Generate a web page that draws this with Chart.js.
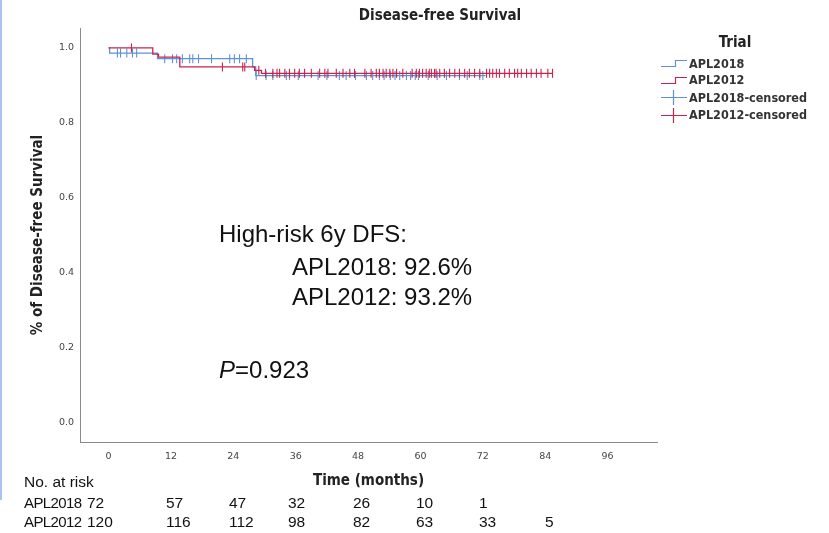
<!DOCTYPE html>
<html>
<head>
<meta charset="utf-8">
<script src="https://cdn.jsdelivr.net/npm/chart.js@4.4.1/dist/chart.umd.min.js"></script>
<style>
    body { margin: 0; background: #fff; }
    #wrap { position: relative; width: 829px; height: 533px; overflow: hidden; font-family: "Liberation Sans", Arial, sans-serif; color: #111; }
    #wrap canvas { position: absolute; left: 0; top: 0; }
    .abs { position: absolute; white-space: nowrap; }
    .title { left: 0; width: 880px; top: 6px; text-align: center; font: bold 15px "DejaVu Sans Condensed", sans-serif; color: #222; }
    .note { font-size: 24px; line-height: 28px; }
    .risk { font-size: 15.5px; line-height: 18px; }
    .risk.lab { letter-spacing: -0.6px; font-size: 15px; }
    .legend { left: 660px; top: 33px; font: bold 12.5px "DejaVu Sans Condensed", sans-serif; color: #333; }
    .legend .hd { width: 150px; text-align: center; font-size: 15px; color: #222; margin-bottom: 4px; }
    .legend .row { display: flex; align-items: center; }
    .legend svg { margin-right: 1px; }
    .edge { left: 0; top: 0; width: 2px; height: 500px; background: #a9c2ee; }
</style>
</head>
<body>
<div id="wrap">
    <canvas id="km" width="829" height="533"></canvas>
    <div class="abs edge"></div>
    <div class="abs title">Disease-free Survival</div>
    <div class="abs legend" id="legend"></div>
    <div class="abs note" style="left:219px;top:220px">High-risk 6y DFS:</div>
    <div class="abs note" style="left:292px;top:253px">APL2018: 92.6%</div>
    <div class="abs note" style="left:292px;top:283px">APL2012: 93.2%</div>
    <div class="abs note" style="left:219px;top:356px"><i>P</i>=0.923</div>
    <div id="risk"></div>
</div>
<script>
// Kaplan-Meier steps (time in months, survival after the step)
const times2018 = [0, 0.2, 9.4, 27.7, 28.3, 72.5];
const surv2018  = [1, 0.986, 0.971, 0.949, 0.926, 0.926];
const times2012 = [0, 8.5, 9.6, 13.7, 28.1, 29.4, 85.4];
const surv2012  = [1, 0.983, 0.975, 0.949, 0.940, 0.932, 0.932];

// censoring times
const cens2018 = [1.7, 2.3, 3.5, 4.6, 5.4, 10.8, 12.3, 13.1, 14.2, 15.6, 16.2, 17.3, 19.8, 23.3, 24.2, 25.2, 26.5,
    28.4, 30.3, 31.6, 34.2, 34.8, 36.5, 40.3, 42.0, 44.4, 45.7, 47.5, 49.6, 50.8, 52.1, 53.0, 54.2, 55.1, 56.0,
    57.3, 58.1, 59.0, 59.6, 61.5, 63.2, 65.0, 67.5, 69.0, 71.4, 72.0];
const cens2012 = [4.4, 21.9, 25.8, 26.2, 28.9, 30.2, 31.6, 32.4, 32.9, 33.9, 34.8, 35.8, 36.7, 37.7, 39.0, 40.6,
    41.6, 42.2, 43.8, 45.1, 46.4, 47.3, 49.3, 50.5, 51.5, 52.1, 52.8, 53.4, 54.1, 54.7, 55.4, 56.6, 58.4, 59.2,
    59.8, 60.4, 61.1, 61.7, 62.1, 62.7, 63.0, 63.7, 64.6, 65.6, 66.6, 67.5, 68.5, 69.4, 70.4, 71.4, 72.7, 73.3,
    73.9, 74.6, 75.2, 76.2, 77.1, 78.1, 78.7, 79.4, 80.4, 81.3, 82.3, 83.2, 84.5, 85.4];

const xTicks = [0, 12, 24, 36, 48, 60, 72, 84, 96];
const yTicks = [0, 0.2, 0.4, 0.6, 0.8, 1.0];

// numbers at risk
const riskLabels = ["APL2018", "APL2012"];
const risk2018 = [72, 57, 47, 32, 26, 10, 1];
const risk2012 = [120, 116, 112, 98, 82, 63, 33, 5];

const blue = '#5e93d3';
const red = '#c8244f';

function stepPoints(times, surv) {
    return times.map((t, i) => ({ x: t, y: surv[i] }));
}
// survival value at time t, looked up from the step table
function survAt(times, surv, t) {
    let s = surv[0];
    for (let i = 0; i < times.length; i++) {
        if (times[i] <= t) s = surv[i];
    }
    return s;
}
function censPoints(cens, times, surv) {
    return cens.map(t => ({ x: t, y: survAt(times, surv, t) }));
}

const fontTick = { family: 'DejaVu Sans', size: 9.5 };
const fontTitle = { family: 'DejaVu Sans Condensed', size: 15, weight: 'bold' };

new Chart(document.getElementById('km'), {
    type: 'scatter',
    data: {
        datasets: [
            { label: 'APL2012-censored', data: censPoints(cens2012, times2012, surv2012), borderColor: red,
              pointStyle: 'line', rotation: 90, radius: 4.5, borderWidth: 1.1, showLine: false },
            { label: 'APL2012', data: stepPoints(times2012, surv2012), borderColor: red, borderWidth: 1.3,
              showLine: true, stepped: true, pointRadius: 0 },
            { label: 'APL2018-censored', data: censPoints(cens2018, times2018, surv2018), borderColor: blue,
              pointStyle: 'line', rotation: 90, radius: 4.5, borderWidth: 1.1, showLine: false },
            { label: 'APL2018', data: stepPoints(times2018, surv2018), borderColor: blue, borderWidth: 1.3,
              showLine: true, stepped: true, pointRadius: 0 }
        ]
    },
    options: {
        responsive: false,
        animation: false,
        layout: { padding: { top: 28, right: 172, left: 0, bottom: 0 } },
        plugins: { legend: { display: false }, tooltip: { enabled: false } },
        scales: {
            x: {
                type: 'linear', min: -5.5, max: 105.5,
                afterBuildTicks: s => { s.ticks = xTicks.map(v => ({ value: v })); },
                afterFit: s => { s.height = 91; },
                grid: { display: false, drawTicks: false },
                border: { display: true, color: '#8a8a8a', width: 1 },
                ticks: { font: fontTick, color: '#444', padding: 9, maxRotation: 0 },
                title: { display: true, text: 'Time (months)', font: fontTitle, color: '#222', padding: { top: 0, bottom: 43 } }
            },
            y: {
                type: 'linear', min: -0.053, max: 1.053,
                afterBuildTicks: s => { s.ticks = yTicks.map(v => ({ value: v })); },
                afterFit: s => { s.width = 80; },
                grid: { display: false, drawTicks: false },
                border: { display: true, color: '#8a8a8a', width: 1 },
                ticks: { font: fontTick, color: '#444', padding: 6, callback: v => v.toFixed(1) },
                title: { display: true, text: '% of Disease-free Survival', font: fontTitle, color: '#222', padding: { top: 29, bottom: 0 } }
            }
        }
    }
});

// legend in SPSS style
const legendItems = [
    { text: 'APL2018', color: blue, kind: 'step', h: 16 },
    { text: 'APL2012', color: red, kind: 'step', h: 17 },
    { text: 'APL2018-censored', color: blue, kind: 'cross', h: 18 },
    { text: 'APL2012-censored', color: red, kind: 'cross', h: 17 }
];
let lg = '<div class="hd">Trial</div>';
legendItems.forEach(it => {
    const icon = it.kind === 'step'
        ? `<svg width="28" height="14"><path d="M1 10.5 H15.5 V4.5 H27" fill="none" stroke="${it.color}" stroke-width="1.2"/></svg>`
        : `<svg width="28" height="16"><path d="M1 8.5 H27 M13.5 1 V16" fill="none" stroke="${it.color}" stroke-width="1.2"/></svg>`;
    lg += `<div class="row" style="height:${it.h}px">${icon}<span>${it.text}</span></div>`;
});
document.getElementById('legend').innerHTML = lg;

// numbers at risk table
const riskColX = [87, 166, 229, 288, 353, 416, 479, 545];
const riskRowTop = [473, 494, 513];
let rk = `<div class="abs risk" style="left:24px;top:${riskRowTop[0]}px">No. at risk</div>`;
[risk2018, risk2012].forEach((vals, r) => {
    rk += `<div class="abs risk lab" style="left:24px;top:${riskRowTop[r + 1]}px">${riskLabels[r]}</div>`;
    vals.forEach((v, i) => {
        rk += `<div class="abs risk" style="left:${riskColX[i]}px;top:${riskRowTop[r + 1]}px">${v}</div>`;
    });
});
document.getElementById('risk').innerHTML = rk;
</script>
</body>
</html>
